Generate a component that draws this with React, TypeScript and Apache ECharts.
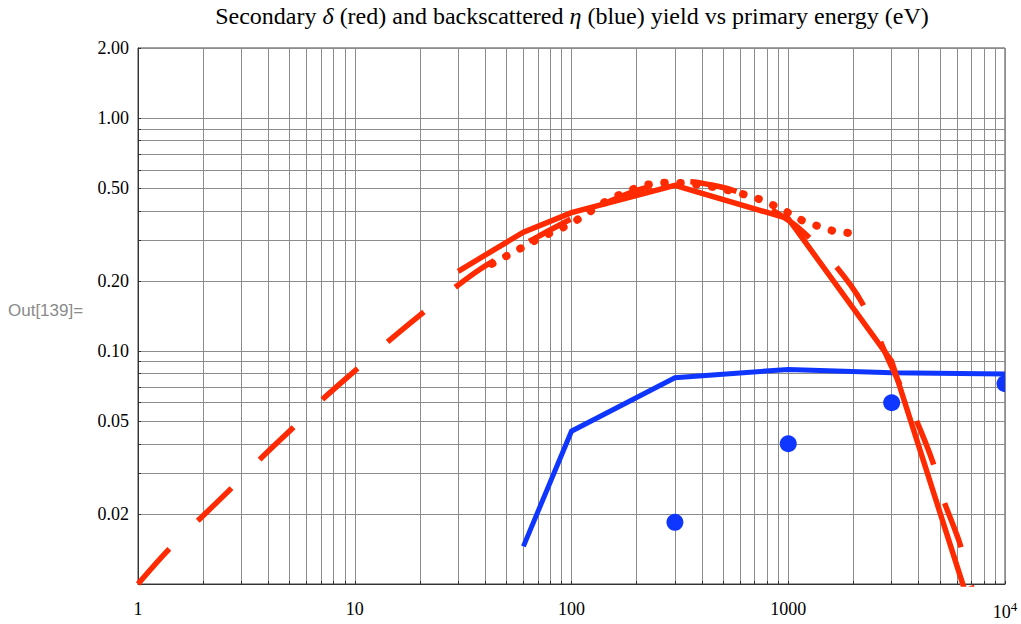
import React, { useEffect, useRef } from 'react';
import * as echarts from 'echarts';

// ---- data (primary energy in eV, yields) ----
const redSolidEnergy = [30, 60, 100, 300, 1000, 3000, 10000];
const redSolidYield = [0.22, 0.324, 0.393, 0.515, 0.37, 0.0905, 0.0027];

const redDashedEnergy = [1, 1.4, 2.7, 3.64, 5.22, 7.08, 10.3, 14.1, 20.8, 28.9, 37.7, 50, 70, 100, 150, 200, 260, 344, 450, 576, 750, 1094, 1603, 2182, 3000, 3831, 4638, 5159, 6180, 6900, 7500];
const redDashedYield = [0.01, 0.0142, 0.0258, 0.0342, 0.0471, 0.0619, 0.0842, 0.109, 0.147, 0.187, 0.224, 0.262, 0.31, 0.37, 0.44, 0.49, 0.52, 0.534, 0.515, 0.484, 0.43, 0.343, 0.24, 0.162, 0.0855, 0.0524, 0.0335, 0.0235, 0.015, 0.0102, 0.008];

const redDottedEnergy = [43, 72, 100, 150, 214, 280, 350, 474, 687, 836, 1015, 1169, 1396, 1625, 1874, 2025];
const redDottedYield = [0.237, 0.307, 0.353, 0.45, 0.516, 0.53, 0.525, 0.503, 0.46, 0.427, 0.39, 0.362, 0.342, 0.327, 0.322, 0.315];

const blueLineEnergy = [60, 100, 300, 1000, 3000, 10000];
const blueLineYield = [0.0145, 0.0453, 0.0768, 0.0834, 0.0807, 0.0798];

const blueDotEnergy = [300, 1000, 3000, 10000];
const blueDotYield = [0.0184, 0.04, 0.06, 0.0724];

// ---- ticks ----
const xTickLabels = [1, 10, 100, 1000, 10000];
const yTickLabels = [0.02, 0.05, 0.1, 0.2, 0.5, 1, 2];
const xDecades = [1, 10, 100, 1000];
const gridMultipliers = [1, 2, 3, 4, 5, 6, 7, 8, 9];
const yDecades = [0.01, 0.1];
const yExtraGrid = [1, 2];

const xGridValues = [...xDecades.flatMap((d) => gridMultipliers.map((m) => m * d)), 10000];
const yGridValues = [
  ...yDecades.flatMap((d) => gridMultipliers.map((m) => parseFloat((m * d).toPrecision(6)))),
  ...yExtraGrid,
];

const zip = (xs: number[], ys: number[]) => xs.map((x, i) => [x, ys[i]]);

const RED = '#ff2a00';
const BLUE = '#0f36ff';
const GRID = '#8c8c8c';
const SERIF = '"Liberation Serif", "Times New Roman", serif';
const SANS = '"Liberation Sans", Arial, sans-serif';

export default function App() {
  const ref = useRef<HTMLDivElement>(null);

  useEffect(() => {
    document.body.style.margin = '0';
    const chart = echarts.init(ref.current as HTMLDivElement, null, { renderer: 'svg' });
    const option: any = {
      animation: false,
      backgroundColor: '#ffffff',
      grid: {
        left: 138,
        right: 16,
        top: 48,
        bottom: 40,
        show: true,
        borderColor: '#444',
        borderWidth: 1,
        backgroundColor: 'transparent',
      },
      graphic: [
        {
          type: 'text',
          x: 572,
          y: 16,
          style: {
            text: 'Secondary {i|δ} (red) and backscattered {i|η} (blue) yield vs primary energy (eV)',
            fontFamily: SERIF,
            fontSize: 24,
            fill: '#000',
            align: 'center',
            verticalAlign: 'middle',
            rich: {
              i: { fontFamily: SERIF, fontSize: 24, fontStyle: 'italic', fill: '#000' },
            },
          },
        },
        {
          type: 'text',
          x: 8,
          y: 310,
          style: {
            text: 'Out[139]=',
            fontFamily: SANS,
            fontSize: 17,
            fill: '#8a8a8a',
            align: 'left',
            verticalAlign: 'middle',
          },
        },
      ],
      xAxis: {
        type: 'log',
        logBase: 10,
        min: 1,
        max: 10000,
        axisLine: { show: true, lineStyle: { color: '#333', width: 1 } },
        axisTick: { show: true, inside: true, length: 3, customValues: xGridValues, lineStyle: { color: '#333' } },
        axisLabel: {
          customValues: xTickLabels,
          margin: 16,
          fontFamily: SERIF,
          fontSize: 18,
          color: '#000',
          formatter: (v: number) => (v === 10000 ? '{b|10}{s|4}' : String(v)),
          rich: {
            b: { fontFamily: SERIF, fontSize: 18, color: '#000' },
            s: { fontFamily: SERIF, fontSize: 13, color: '#000', padding: [0, 0, 10, 0] },
          },
        },
        splitLine: { show: true, lineStyle: { color: GRID, width: 1 } },
      },
      yAxis: {
        type: 'log',
        logBase: 10,
        min: 0.01,
        max: 2,
        axisLine: { show: true, lineStyle: { color: '#333', width: 1 } },
        axisTick: { show: true, inside: true, length: 3, customValues: yGridValues, lineStyle: { color: '#333' } },
        axisLabel: {
          customValues: yTickLabels,
          margin: 9,
          fontFamily: SERIF,
          fontSize: 18,
          color: '#000',
          formatter: (v: number) => v.toFixed(2),
        },
        splitLine: { show: true, lineStyle: { color: GRID, width: 1 } },
      },
      series: [
        {
          name: 'eta line',
          type: 'line',
          data: zip(blueLineEnergy, blueLineYield),
          showSymbol: false,
          symbol: 'none',
          lineStyle: { color: BLUE, width: 5, cap: 'butt', join: 'miter' },
          z: 2,
        },
        {
          name: 'eta points',
          type: 'custom',
          clip: true,
          data: zip(blueDotEnergy, blueDotYield),
          renderItem: (params: any, api: any) => {
            const p = api.coord([api.value(0), api.value(1)]);
            return {
              type: 'circle',
              shape: { cx: p[0], cy: p[1], r: 8.5 },
              style: { fill: BLUE },
            };
          },
          z: 3,
        },
        {
          name: 'delta dashed',
          type: 'line',
          data: zip(redDashedEnergy, redDashedYield),
          showSymbol: false,
          symbol: 'none',
          smooth: 0.3,
          lineStyle: { color: RED, width: 5.5, type: [47, 40], cap: 'butt' },
          z: 4,
        },
        {
          name: 'delta dotted',
          type: 'line',
          data: zip(redDottedEnergy, redDottedYield),
          showSymbol: false,
          symbol: 'none',
          lineStyle: { color: RED, width: 8, type: [0.5, 15.5], cap: 'round' },
          z: 4,
        },
        {
          name: 'delta solid',
          type: 'line',
          data: zip(redSolidEnergy, redSolidYield),
          showSymbol: false,
          symbol: 'none',
          lineStyle: { color: RED, width: 5.5, cap: 'butt', join: 'miter' },
          z: 5,
        },
      ],
    };
    chart.setOption(option);
    return () => chart.dispose();
  }, []);

  return <div ref={ref} style={{ position: 'absolute', left: 0, top: 0, width: 1021, height: 624 }} />;
}
